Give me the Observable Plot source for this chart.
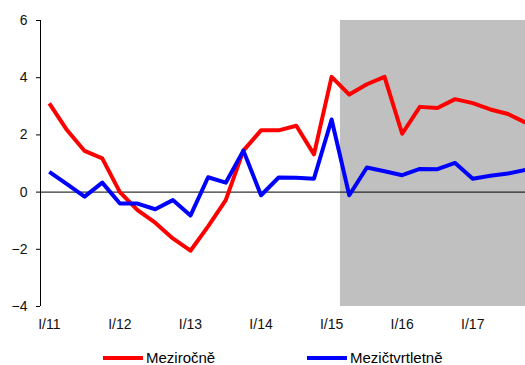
<!DOCTYPE html>
<html>
<head>
<meta charset="utf-8">
<script src="https://cdn.jsdelivr.net/npm/d3@7"></script>
<script src="https://cdn.jsdelivr.net/npm/@observablehq/plot@0.6"></script>
<style>
  html, body { margin: 0; padding: 0; background: #fff; }
  body { width: 525px; height: 365px; overflow: hidden; font-family: Arial, "Liberation Sans", sans-serif; }
  #chart svg text { font-family: Arial, "Liberation Sans", sans-serif; font-size: 14px; }
  #legend { position: relative; height: 25px; font-size: 15px; line-height: 17px; color: #000; }
  .item { position: absolute; top: 9px; display: flex; align-items: center; }
  .swatch { width: 40px; height: 4px; margin-right: 3px; }
</style>
</head>
<body>
<div id="chart"></div>
<div id="legend"></div>
<script>
// Quarters I/11 .. IV/17
const quarters = [
  "I/11","II/11","III/11","IV/11",
  "I/12","II/12","III/12","IV/12",
  "I/13","II/13","III/13","IV/13",
  "I/14","II/14","III/14","IV/14",
  "I/15","II/15","III/15","IV/15",
  "I/16","II/16","III/16","IV/16",
  "I/17","II/17","III/17","IV/17"
];

// Year-on-year change (%)
const mezirocne = [
  3.10, 2.17, 1.44, 1.18,
  0.00, -0.63, -1.07, -1.62,
  -2.05, -1.20, -0.28, 1.45,
  2.16, 2.16, 2.32, 1.32,
  4.03, 3.41, 3.77, 4.03,
  2.04, 2.98, 2.94, 3.25,
  3.11, 2.89, 2.73, 2.43
];

// Quarter-on-quarter change (%)
const mezictvrtletne = [
  0.71, 0.28, -0.16, 0.33,
  -0.40, -0.40, -0.60, -0.28,
  -0.82, 0.52, 0.33, 1.45,
  -0.11, 0.51, 0.50, 0.47,
  2.54, -0.11, 0.86, 0.73,
  0.59, 0.81, 0.80, 1.02,
  0.47, 0.57, 0.65, 0.78
];

// Forecast period starts with II/15
const forecastStart = "II/15";

const xTicks = ["I/11","I/12","I/13","I/14","I/15","I/16","I/17"];
const yTicks = [-4, -2, 0, 2, 4, 6];

const seriesNames = ["Meziročně", "Mezičtvrtletně"];
const seriesColors = ["#ff0000", "#0000ff"];

const rows = quarters.flatMap((q, i) => [
  {i, q, value: mezirocne[i], series: seriesNames[0]},
  {i, q, value: mezictvrtletne[i], series: seriesNames[1]}
]);

const n = quarters.length;
const fStart = quarters.indexOf(forecastStart) - 0.5;
const tickIndex = xTicks.map(t => quarters.indexOf(t));

const chart = Plot.plot({
  width: 525,
  height: 340,
  marginTop: 20,
  marginBottom: 34,
  marginLeft: 40,
  marginRight: 0,
  style: {background: "#fff"},
  x: {domain: [-0.5, n - 0.5], range: [40, 534]},
  y: {domain: [-4, 6]},
  color: {domain: seriesNames, range: seriesColors},
  marks: [
    Plot.rect([{x1: fStart, x2: n - 0.5}], {x1: "x1", x2: "x2", y1: -4, y2: 6, fill: "#c0c0c0"}),
    Plot.ruleY([0], {stroke: "#000", strokeWidth: 1}),
    Plot.ruleX([-0.5], {y1: -4, y2: 6, stroke: "#000", strokeWidth: 1}),
    Plot.axisY({ticks: yTicks, tickSize: 4, tickPadding: 9, stroke: "#000", fill: "#111", label: null}),
    Plot.axisX({ticks: tickIndex, tickFormat: i => quarters[i], tickSize: 0, tickPadding: 13, fill: "#111", label: null}),
    Plot.line(rows, {x: "i", y: "value", z: "series", stroke: "series", strokeWidth: 4, strokeLinejoin: "round", strokeLinecap: "butt"})
  ]
});
document.getElementById("chart").appendChild(chart);

// Legend below the chart
const legend = document.getElementById("legend");
const legendX = [103, 307];
seriesNames.forEach((name, k) => {
  const item = document.createElement("div");
  item.className = "item";
  item.style.left = legendX[k] + "px";
  const sw = document.createElement("span");
  sw.className = "swatch";
  sw.style.background = seriesColors[k];
  const label = document.createElement("span");
  label.textContent = name;
  item.appendChild(sw);
  item.appendChild(label);
  legend.appendChild(item);
});
</script>
</body>
</html>
